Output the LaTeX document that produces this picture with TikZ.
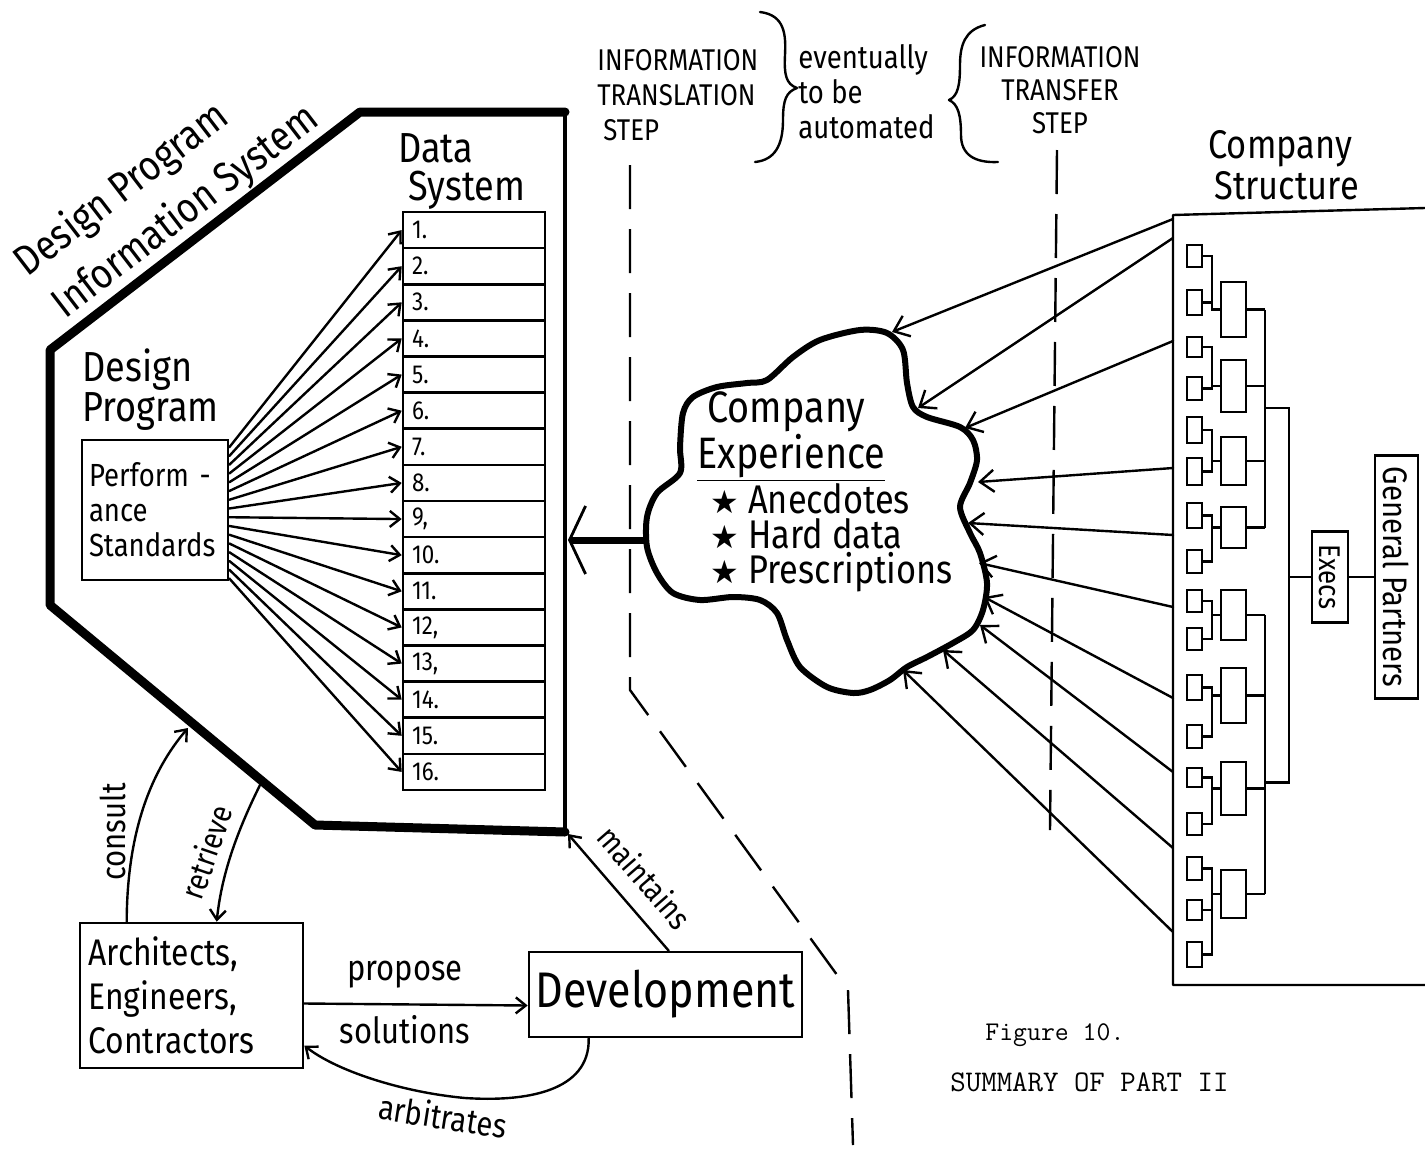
\documentclass[tikz,border=0pt]{standalone}
\usepackage{fontspec}
\newfontfamily\hand{Fira Sans}[FakeStretch=0.86]
\newfontfamily\symfont{DejaVu Sans}
\usetikzlibrary{arrows.meta,calc}
\newcommand\hwf[1]{\hand\fontsize{#1}{#1}\selectfont}
\newcommand\hwl[2]{\hand\fontsize{#1}{#2}\selectfont}
\newcommand\bstar{{\symfont\fontsize{16}{16}\selectfont ★}}

\tikzset{
  ln/.style={line width=1.2pt, line cap=round, line join=round},
  barb/.style={-{Straight Barb[length=5pt,width=8pt]}},
  bigbarb/.style={-{Straight Barb[length=7pt,width=11pt]}},
  box/.style={draw, line width=1.3pt, inner sep=0pt},
  hw/.style={inner sep=0pt},
  org/.style={draw, line width=1.1pt, inner sep=0pt},
  orgln/.style={line width=1.1pt},
  stepline/.style={line width=1.2pt, dash pattern=on 22pt off 10pt},
}

\begin{document}
\begin{tikzpicture}[x=0.5pt,y=-0.5pt]
\useasboundingbox (0,0) rectangle (1425,1152);
\fill[white] (0,0) rectangle (1425,1152);

% ---------- design program information system (octagon) ----------
\draw[line width=4.5pt, line join=round, line cap=round]
  (565,112) -- (360,112) -- (50,350) -- (50,605) -- (315,825) -- (565,832);
\draw[line width=1.6pt] (565,112) -- (565,832);
\coordinate (dpR) at (568,540);
\coordinate (dpCorner) at (568,834);
\coordinate (cT) at (188,728);
\coordinate (rS) at (262,781);

\node[hw, rotate=37.5, font={\hwf{21}}] (dpis1) at (122,190) {Design Program};
\node[hw, rotate=37.5, font={\hwf{21}}] (dpis2) at (186,212) {Information System};

\node[hw, anchor=west, align=left, font={\hwl{21}{20}}] (dpt) at (82,390) {Design\\Program};
\node[box, minimum width=73pt, minimum height=70pt, text width=66pt, align=left, font={\hwl{16}{17.5}}] (ps) at (155,510)
  {Perform -\\ance\\Standards};

% ---------- data system table ----------
\node[hw, anchor=west, align=left, font={\hwl{21}{19}}] (dst) at (398,171) {Data\\\hspace{5pt}System};
\foreach \i/\t in {1/{1.},2/{2.},3/{3.},4/{4.},5/{5.},6/{6.},7/{7.},8/{8.},9/{9,},10/{10.},11/{11.},12/{12,},13/{13,},14/{14.},15/{15.},16/{16.}}{
  \node[box, minimum width=71pt, minimum height=18.06pt] (r\i) at (474,{212+36.125*(\i-0.5)}) {};
  \node[hw, anchor=west, font={\hwf{13}}] (rl\i) at ([xshift=5pt]r\i.west) {\t};
}
\foreach \i in {1,...,16}{
  \pgfmathsetmacro\f{0.06+0.92*(\i-1)/15}
  \draw[ln,barb] ($(ps.north east)!\f!(ps.south east)$) -- (r\i.west);
}

% ---------- company experience cloud ----------
\draw[line width=3pt, line join=round] plot[smooth cycle, tension=0.5] coordinates {
  (860,330) (887,333) (903,350) (907,383) (913,407) (927,417) (960,427) (973,440)
  (977,460) (970,483) (960,507) (970,533) (980,553) (987,583) (983,610) (973,630)
  (953,643) (927,657) (907,667) (890,680) (870,690) (853,693) (827,687) (800,667)
  (787,640) (777,613) (760,600) (733,597) (700,600) (673,593) (657,573) (647,547)
  (647,517) (657,493) (680,473) (680,447) (683,413) (693,397) (717,387) (747,383)
  (767,380) (793,357) (820,340)};
\coordinate (cw) at (645,540);
\node[hw, anchor=west, align=left, font={\hwl{22}{21.5}}] (ce) at (697,437) {\hspace{5pt}Company\\\underline{Experience}};
\node[hw, anchor=west, align=left, font={\hwl{20}{17.5}}] (cl) at (710,538)
  {\bstar\ Anecdotes\\\bstar\ Hard data\\\bstar\ Prescriptions};
\draw[line width=3.5pt, -{Straight Barb[length=8pt,width=34pt,line width=1.4pt]}] (cw) -- (dpR);

% ---------- step boundaries ----------
\coordinate (tA) at (630,165);
\coordinate (tB) at (630,690);
\coordinate (tC) at (848,990);
\coordinate (tD) at (853,1145);
\draw[stepline] (tA) -- (tB) -- (tC) -- (tD);
\coordinate (fA) at (1057,150);
\coordinate (fB) at (1050,830);
\draw[stepline] (fA) -- (fB);

\node[hw, anchor=west, align=left, font={\hwl{15}{17.5}}] (trl) at (597,95) {INFORMATION\\TRANSLATION\\\hspace{3pt}STEP};
\node[hw, anchor=west, align=left, font={\hwl{16}{17.5}}] (auto) at (798,92) {eventually\\to be\\automated};
\node[hw, align=center, font={\hwl{15}{16.5}}] (trf) at (1060,90) {INFORMATION\\TRANSFER\\STEP};
\draw[ln] (760,12) .. controls (785,15) and (786,35) .. (785,55)
  .. controls (784,75) and (786,84) .. (797,88)
  .. controls (786,92) and (783,100) .. (783,120)
  .. controls (783,145) and (775,160) .. (755,162);
\draw[ln] (985,25) .. controls (965,30) and (960,45) .. (960,65)
  .. controls (960,85) and (958,96) .. (949,100)
  .. controls (958,104) and (961,115) .. (961,135)
  .. controls (961,155) and (975,163) .. (998,162);

% ---------- company structure ----------
\node[hw, anchor=west, align=left, font={\hwl{20}{20.5}}] (cs) at (1208,165) {Company\\\hspace{3pt}Structure};
\draw[ln] (1425,208) -- (1173,215) -- (1173,985) -- (1425,985);

\foreach \g/\t/\b in {1/282/337,2/360/412,3/437/485,4/507/548,5/590/640,6/668/723,7/762/815,8/870/918}{
  \pgfmathsetmacro\h{(\b-\t)/2}
  \node[org, minimum width=12.5pt, minimum height=\h pt] (m\g) at (1233.5,{(\t+\b)/2}) {};
  \draw[orgln] (m\g.east) -- ++(18,0) coordinate (bt\g);
}
\foreach \g/\k/\t/\b in {1/a/245/267,1/b/290/315,2/a/337/357,2/b/377/400,3/a/417/443,3/b/458/485,
  4/a/503/528,4/b/550/573,5/a/590/612,5/b/628/650,6/a/675/700,6/b/725/748,7/a/768/787,7/b/813/835,
  8/a/857/880,8/b/900/920,8/c/942/967}{
  \pgfmathsetmacro\h{(\b-\t)/2}
  \node[org, minimum width=7.5pt, minimum height=\h pt] (s\g\k) at (1194.5,{(\t+\b)/2}) {};
  \draw[orgln] (s\g\k.east) -- ++(9,0) |- (m\g.west);
}
\draw[orgln] (bt1) -- (bt4);
\draw[orgln] (bt5) -- (bt8);
\draw[orgln] ($(bt1)!0.45!(bt4)$) -- ++(24,0) coordinate (vA) |- ($(bt5)!0.6!(bt8)$);
\node[org, rotate=-90, minimum width=45.5pt, minimum height=18pt, font={\hwf{15}}] (ex) at (1330,577) {Execs};
\node[org, rotate=-90, minimum width=121.5pt, minimum height=21.5pt, font={\hwf{17}}] (gp) at (1396.5,577) {General Partners};
\draw[orgln] (vA |- ex.center) -- (ex);
\draw[orgln] (ex) -- (gp);

% ---------- experience flowing into the cloud ----------
\foreach \i/\sy/\hx/\hy in {1/219/892/332,2/238/918/408,3/341/965/428,4/468/978/482,5/535/968/523,
  6/607/979/563,7/698/984/597,8/772/980/625,9/848/943/650,10/932/903/670}{
  \coordinate (so\i) at (1173,\sy);
  \coordinate (hd\i) at (\hx,\hy);
  \draw[ln,bigbarb] (so\i) -- (hd\i);
}

% ---------- users of the system ----------
\node[box, minimum width=111.5pt, minimum height=72.5pt, text width=103pt, align=left, font={\hwl{18.5}{22}}] (ae) at (191.5,995.5)
  {Architects,\\Engineers,\\Contractors};
\node[box, minimum width=136.5pt, minimum height=42.5pt, font={\hwf{25}}] (dev) at (665.5,994.5) {Development};

\draw[ln,barb] ($(ae.east)+(0,8)$) -- ($(dev.west)+(0,11)$);
\node[hw, font={\hwf{18}}] (lp) at (405,975) {propose};
\node[hw, font={\hwf{18}}] (ls) at (405,1030) {solutions};

\draw[ln,barb] ($(ae.north west)+(48,0)$) .. controls (127,830) and (152,770) .. (cT);
\draw[ln,barb] (rS) .. controls (240,825) and (222,870) .. ($(ae.north west)+(138,0)$);
\draw[ln,barb] ($(dev.north west)+(141,0)$) -- (dpCorner);
\draw[ln,barb] ($(dev.south west)+(61,0)$) .. controls (590,1092) and (525,1102) .. (465,1098)
  .. controls (400,1092) and (335,1070) .. ($(ae.east)+(0,50)$);

\node[hw, rotate=90, font={\hwf{17}}] (lc) at (113,832) {consult};
\node[hw, rotate=71, font={\hwf{16}}] (lr) at (206,852) {retrieve};
\node[hw, rotate=-49, font={\hwf{16}}] (lm) at (645,877) {maintains};
\node[hw, rotate=-9, font={\hwf{17}}] (la) at (443,1116) {arbitrates};

% ---------- caption ----------
\node[hw, anchor=west, font={\ttfamily\fontsize{13.5}{13.5}\selectfont}] (fig) at (985,1035) {Figure 10.};
\node[hw, anchor=west, font={\ttfamily\fontsize{15}{15}\selectfont}] (sum) at (950,1082) {SUMMARY OF PART II};
\end{tikzpicture}
\end{document}
